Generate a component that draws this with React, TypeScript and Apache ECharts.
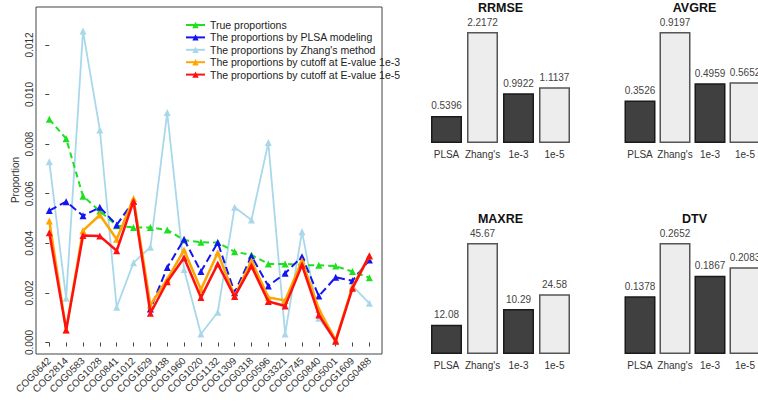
import React, { useEffect, useRef } from 'react';
import * as echarts from 'echarts';

// ---------- Line chart data ----------
const categories = [
  'COG0642', 'COG2814', 'COG0583', 'COG1028', 'COG0841', 'COG1012', 'COG1629',
  'COG0438', 'COG1960', 'COG1020', 'COG1132', 'COG1309', 'COG0318', 'COG0596',
  'COG3321', 'COG0745', 'COG0840', 'COG5001', 'COG1609', 'COG0488',
];
const trueProp = [0.0090, 0.00822, 0.0059, 0.0053, 0.00471, 0.00464, 0.00464, 0.00454, 0.00413, 0.00404,
  0.00403, 0.00366, 0.00353, 0.00317, 0.00317, 0.00312, 0.00311, 0.00308, 0.00286, 0.00261];
const plsaProp = [0.00532, 0.00568, 0.00511, 0.00545, 0.00474, 0.0057, 0.00135, 0.00302, 0.00416, 0.00286,
  0.00403, 0.00201, 0.00349, 0.00228, 0.00279, 0.00346, 0.00187, 0.00263, 0.00249, 0.00333];
const zhangProp = [0.00729, 0.00178, 0.01256, 0.00857, 0.00142, 0.00322, 0.00384, 0.00927, 0.00294, 0.00034,
  0.00122, 0.00545, 0.00494, 0.00806, 0.00034, 0.00447, 0.00098, 0.00005, 0.00228, 0.00158];
const cutoff3Prop = [0.0049, 0.0005, 0.00451, 0.00514, 0.00416, 0.00581, 0.00151, 0.00255, 0.00373, 0.00214,
  0.00362, 0.00187, 0.00329, 0.00182, 0.00169, 0.0033, 0.00134, 0.0001, 0.00225, 0.00349];
const cutoff5Prop = [0.00443, 0.0005, 0.00431, 0.00429, 0.0037, 0.0057, 0.00118, 0.00245, 0.00342, 0.00181,
  0.00317, 0.00185, 0.00308, 0.00165, 0.00147, 0.00312, 0.00111, 0.00005, 0.00219, 0.0035];
const yTicks = [0, 0.002, 0.004, 0.006, 0.008, 0.010, 0.012];

// ---------- Bar chart data ----------
const barCats = ['PLSA', "Zhang's", '1e-3', '1e-5'];
// bar heights as drawn in the picture (scaled to each panel's tallest bar)
const rrmse = [0.5396, 2.2172, 0.9922, 1.1137];
const avgre = [0.3526, 0.9197, 0.4959, 0.503];
const maxre = [12.08, 45.67, 18.5, 24.58];
const dtv = [0.1378, 0.2652, 0.1867, 0.2075];
// value labels printed above the bars
const rrmseLabels = ['0.5396', '2.2172', '0.9922', '1.1137'];
const avgreLabels = ['0.3526', '0.9197', '0.4959', '0.5652'];
const maxreLabels = ['12.08', '45.67', '10.29', '24.58'];
const dtvLabels = ['0.1378', '0.2652', '0.1867', '0.2083'];

const FONT = 'Liberation Sans, Arial, sans-serif';
const W = 758;

export default function App() {
  const ref = useRef<HTMLDivElement>(null);

  useEffect(() => {
    const chart = echarts.init(ref.current!, null, { renderer: 'svg' });

    const lineDefs = [
      { name: "The proportions by Zhang's method", data: zhangProp, color: '#a8d8ea', width: 1.8, type: 'solid', z: 2 },
      { name: 'True proportions', data: trueProp, color: '#1fe01f', width: 2, type: [6, 4], z: 3 },
      { name: 'The proportions by PLSA modeling', data: plsaProp, color: '#1515f0', width: 2, type: [8, 4], z: 4 },
      { name: 'The proportions by cutoff at E-value 1e-3', data: cutoff3Prop, color: '#ffa500', width: 2.5, type: 'solid', z: 5 },
      { name: 'The proportions by cutoff at E-value 1e-5', data: cutoff5Prop, color: '#ff1010', width: 2.5, type: 'solid', z: 6 },
    ];

    const lineSeries = lineDefs.map((d) => ({
      type: 'line',
      name: d.name,
      xAxisIndex: 0,
      yAxisIndex: 0,
      data: d.data.map((v, i) => [i, v]),
      symbol: 'triangle',
      symbolSize: 7,
      clip: false,
      z: d.z,
      lineStyle: { color: d.color, width: d.width, type: d.type },
      itemStyle: { color: d.color },
    }));

    const panels = [
      { title: 'RRMSE', data: rrmse, labels: rrmseLabels, left: 428.5, top: 32 },
      { title: 'AVGRE', data: avgre, labels: avgreLabels, left: 622.5, top: 32 },
      { title: 'MAXRE', data: maxre, labels: maxreLabels, left: 428.5, top: 243 },
      { title: 'DTV', data: dtv, labels: dtvLabels, left: 622.5, top: 243 },
    ];
    const band = 36;

    const grids: any[] = [
      { left: 36, top: 7, width: 346, height: 347, show: true, borderColor: '#444', borderWidth: 1 },
    ];
    const xAxes: any[] = [
      {
        gridIndex: 0,
        type: 'value',
        min: -0.79,
        max: 19.75,
        splitLine: { show: false },
        axisLine: { show: false },
        axisTick: { show: true, customValues: categories.map((_, i) => i), length: 4, inside: false, lineStyle: { color: '#444' } },
        axisLabel: {
          customValues: categories.map((_, i) => i),
          formatter: (v: number) => categories[Math.round(v)] ?? '',
          rotate: 45,
          fontSize: 10,
          color: '#333',
          fontFamily: FONT,
          margin: 5,
        },
      },
    ];
    const yAxes: any[] = [
      {
        gridIndex: 0,
        type: 'value',
        min: -0.000464,
        max: 0.013528,
        splitLine: { show: false },
        axisLine: { show: false },
        axisTick: { show: true, customValues: yTicks, length: 4, lineStyle: { color: '#444' } },
        axisLabel: {
          customValues: yTicks,
          formatter: (v: number) => v.toFixed(3),
          rotate: 90,
          fontSize: 10,
          color: '#333',
          fontFamily: FONT,
          margin: 2,
        },
      },
    ];

    const barSeries: any[] = [];
    const graphics: any[] = [
      {
        type: 'text',
        x: 15,
        y: 180,
        rotation: Math.PI / 2,
        style: { text: 'Proportion', align: 'center', verticalAlign: 'middle', font: '10px ' + FONT, fill: '#333' },
      },
    ];

    panels.forEach((p, k) => {
      const gi = k + 1;
      const width = Math.min(band * barCats.length, W - p.left);
      grids.push({ left: p.left, width, top: p.top, height: 111 });
      xAxes.push({
        gridIndex: gi,
        type: 'value',
        min: -0.5,
        max: -0.5 + width / band,
        splitLine: { show: false },
        axisLine: { show: false },
        axisTick: { show: false },
        axisLabel: {
          customValues: barCats.map((_, i) => i),
          formatter: (v: number) => barCats[Math.round(v)] ?? '',
          fontSize: 10,
          color: '#333',
          fontFamily: FONT,
          margin: 6,
        },
      });
      yAxes.push({ gridIndex: gi, type: 'value', min: 0, max: 'dataMax', show: false });
      barSeries.push({
        type: 'bar',
        xAxisIndex: gi,
        yAxisIndex: gi,
        barWidth: 31,
        data: p.data.map((v, i) => ({
          value: [i, v],
          itemStyle: {
            color: i % 2 === 0 ? '#404040' : '#ededed',
            borderColor: i % 2 === 0 ? '#1a1a1a' : '#555',
            borderWidth: 1.5,
          },
        })),
        label: {
          show: true,
          position: 'top',
          distance: 5,
          fontSize: 10,
          color: '#444',
          fontFamily: FONT,
          formatter: (prm: any) => p.labels[prm.dataIndex],
        },
      });
      graphics.push({
        type: 'text',
        x: p.left + 72,
        y: p.top - 24,
        style: { text: p.title, align: 'center', verticalAlign: 'middle', font: 'bold 12.5px ' + FONT, fill: '#111' },
      });
    });

    chart.setOption({
      animation: false,
      backgroundColor: '#fff',
      textStyle: { fontFamily: FONT },
      grid: grids,
      xAxis: xAxes,
      yAxis: yAxes,
      legend: {
        data: [
          'True proportions',
          'The proportions by PLSA modeling',
          "The proportions by Zhang's method",
          'The proportions by cutoff at E-value 1e-3',
          'The proportions by cutoff at E-value 1e-5',
        ],
        orient: 'vertical',
        left: 180,
        top: 14,
        itemWidth: 19,
        itemHeight: 8,
        itemGap: 0.4,
        lineStyle: { type: 'solid' },
        textStyle: { fontSize: 10.5, color: '#222', fontFamily: FONT, lineHeight: 12 },
        selectedMode: false,
      },
      series: [...lineSeries, ...barSeries],
      graphic: graphics,
    });

    return () => chart.dispose();
  }, []);

  return (
    <div
      ref={ref}
      style={{ position: 'fixed', left: 0, top: 0, width: W, height: 403, background: '#fff' }}
    />
  );
}
